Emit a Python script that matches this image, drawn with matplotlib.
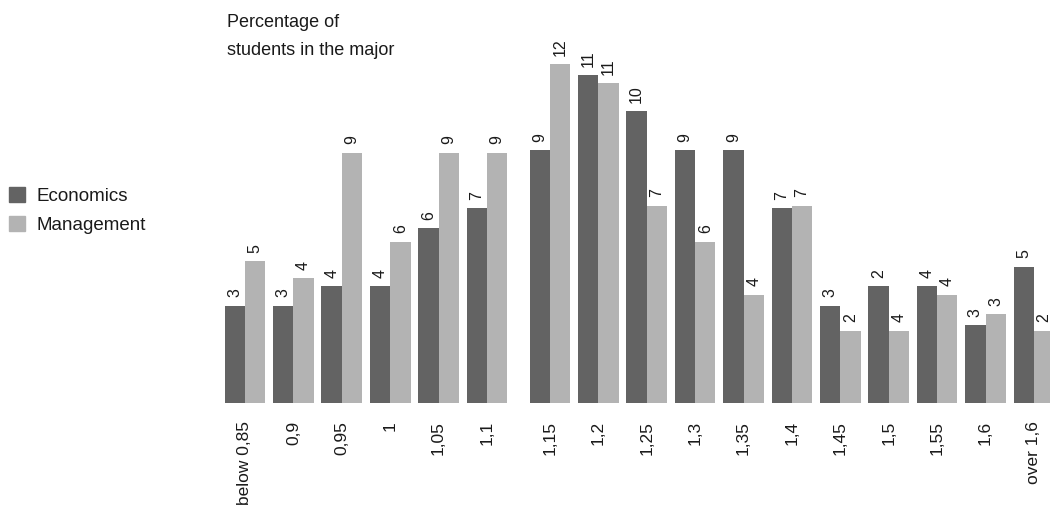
import numpy as np
import matplotlib
matplotlib.use("Agg")
import matplotlib.pyplot as plt
from matplotlib.patches import Patch

plt.rcParams['font.family'] = ['Liberation Sans', 'DejaVu Sans']

# kategorije (koeficijent) i serije
kategorije = ['below 0,85', '0,9', '0,95', '1', '1,05', '1,1', '1,15', '1,2', '1,25',
              '1,3', '1,35', '1,4', '1,45', '1,5', '1,55', '1,6', 'over 1,6']
economics = [3.5, 3.5, 4.2, 4.2, 6.3, 7.0, 9.1, 11.8, 10.5, 9.1, 9.1, 7.0, 3.5, 4.2, 4.2, 2.8, 4.9]
management = [5.1, 4.5, 9.0, 5.8, 9.0, 9.0, 12.2, 11.5, 7.1, 5.8, 3.9, 7.1, 2.6, 2.6, 3.9, 3.2, 2.6]
# natpisi iznad stupaca (kao na originalu)
econ_natpisi = ['3', '3', '4', '4', '6', '7', '9', '11', '10', '9', '9', '7', '3', '2', '4', '3', '5']
mgmt_natpisi = ['5', '4', '9', '6', '9', '9', '12', '11', '7', '6', '4', '7', '2', '4', '4', '3', '2']

tamna = '#636363'
svijetla = '#b3b3b3'
tekst = '#1a1a1a'

n = len(kategorije)
x = np.arange(n) + (np.arange(n) >= 6) * 0.3
w = 0.42

fig = plt.figure(figsize=(10.5, 5.11), dpi=100)
ax = fig.add_axes([0, 108 / 511, 1, 403 / 511])

b1 = ax.bar(x - w / 2, economics, width=w, color=tamna, linewidth=0)
b2 = ax.bar(x + w / 2, management, width=w, color=svijetla, linewidth=0)

for bars, natpisi in ((b1, econ_natpisi), (b2, mgmt_natpisi)):
    for r, t in zip(bars, natpisi):
        ax.annotate(t, (r.get_x() + r.get_width() / 2, r.get_height()),
                    xytext=(0, 6), textcoords='offset points',
                    rotation=90, ha='center', va='bottom', fontsize=11.5, color=tekst)

ax.set_xlim(-245 / 48.4, (1050 - 245) / 48.4)
ax.set_ylim(0, 403 / 27.8)
ax.set_xticks(x)
ax.set_xticklabels(kategorije, rotation=90, fontsize=12.5, color=tekst)
ax.tick_params(axis='x', length=0, pad=13)
ax.set_yticks([])
for s in ax.spines.values():
    s.set_visible(False)
ax.patch.set_alpha(0)

fig.text(227 / 1050, 1 - 14 / 511, 'Percentage of', ha='left', va='top',
         fontsize=13, color=tekst)
fig.text(227 / 1050, 1 - 42 / 511, 'students in the major', ha='left', va='top',
         fontsize=13, color=tekst)

handles = [Patch(color=tamna), Patch(color=svijetla)]
fig.legend(handles, ['Economics', 'Management'], loc='upper left',
           bbox_to_anchor=(9 / 1050, 1 - 187 / 511), frameon=False,
           handlelength=0.85, handleheight=0.85, handletextpad=0.6,
           labelspacing=0.6, borderpad=0, borderaxespad=0,
           fontsize=13.5, labelcolor=tekst)

fig.savefig('out.png', dpi=100)
